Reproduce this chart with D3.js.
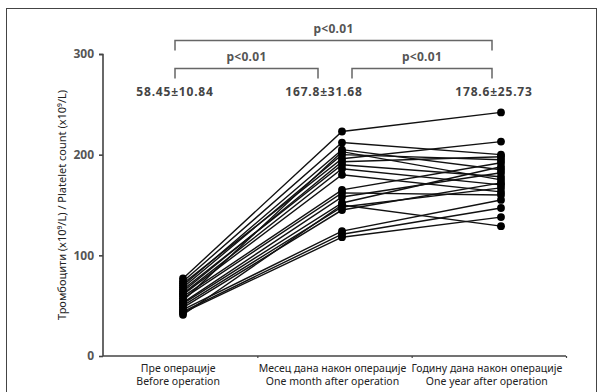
<!DOCTYPE html>
<html>
<head>
<meta charset="utf-8">
<script src="https://cdn.jsdelivr.net/npm/d3@7"></script>
<style>
  body { margin: 0; background: #fff; }
  text { font-family: "Noto Sans", "Open Sans", sans-serif; }
</style>
</head>
<body>
<script>
// categories (two-line labels) and summary stats
const catTop = ["Пре операције", "Месец дана након операције", "Годину дана након операције"];
const catBottom = ["Before operation", "One month after operation", "One year after operation"];
const stats = ["58.45±10.84", "167.8±31.68", "178.6±25.73"];
const yTicks = [0, 100, 200, 300];

// one value per patient at each time point
const before = [77, 74, 72, 70, 68, 66, 64, 62, 61, 59, 57, 55, 53, 52, 50, 48, 46, 44, 43, 41];
const month  = [223, 212, 196, 205, 200, 190, 193, 186, 180, 165, 162, 203, 158, 152, 148, 145, 124, 121, 118, 150];
const year   = [242, 200, 213, 185, 195, 178, 198, 170, 163, 192, 160, 175, 182, 188, 167, 172, 155, 147, 138, 129];

// significance brackets: from group -> to group, level (0 = outer)
const brackets = [{a: 0, b: 2, level: 0}, {a: 0, b: 1, level: 1}, {a: 1, b: 2, level: 1}];

const w = 601, h = 392;
const svg = d3.select("body").append("svg").attr("width", w).attr("height", h);

// outer frame
svg.append("rect").attr("x", 6.5).attr("y", 8.5).attr("width", 590).attr("height", 400)
  .attr("fill", "none").attr("stroke", "#444").attr("stroke-width", 1);

const y = d3.scaleLinear().domain([0, 300]).range([356, 54]);
const xAxisScale = d3.scaleLinear().domain([0, 3]).range([103, 566]);
const xPts = d3.scalePoint().domain([0, 1, 2]).range([183, 501]);

// y axis
const yAxis = d3.axisLeft(y).tickValues(yTicks).tickSize(4).tickPadding(5);
const gy = svg.append("g").attr("transform", "translate(103,0)").call(yAxis);
gy.select(".domain").attr("stroke", "#444").attr("stroke-width", 1.6).attr("d", "M-4,54.5H0V356");
gy.selectAll(".tick line").attr("stroke", "#444").attr("stroke-width", 1.6);
gy.selectAll(".tick text").attr("fill", "#555").style("font-size", "12px").style("font-weight", "bold");

// x axis
const xAxis = d3.axisBottom(xAxisScale).tickValues([1, 2, 3]).tickSize(2).tickFormat("");
const gx = svg.append("g").attr("transform", "translate(0,356)").call(xAxis);
gx.select(".domain").attr("stroke", "#444").attr("stroke-width", 1.6).attr("d", "M103,0H566");
gx.selectAll(".tick line").attr("stroke", "#444").attr("stroke-width", 1.2);

// category labels
catTop.forEach((t, i) => {
  svg.append("text").attr("x", xAxisScale(i + 0.5) - 2).attr("y", 372)
    .attr("text-anchor", "middle").style("font-size", "10.5px").attr("fill", "#222").text(t);
  svg.append("text").attr("x", xAxisScale(i + 0.5) - 2).attr("y", 385)
    .attr("text-anchor", "middle").style("font-size", "10.5px").attr("fill", "#222").text(catBottom[i]);
});

// y label
svg.append("text").attr("transform", "translate(66,205) rotate(-90)")
  .attr("text-anchor", "middle").style("font-size", "11px").attr("fill", "#222")
  .text("Тромбоцити (x10⁹/L) / Platelet count (x10⁹/L)");

// patient lines
const rows = before.map((b, i) => [b, month[i], year[i]]);
const line = d3.line().x((d, i) => xPts(i)).y(d => y(d));
svg.append("g").selectAll("path").data(rows).enter().append("path")
  .attr("d", line).attr("fill", "none").attr("stroke", "#111").attr("stroke-width", 1.4);

// points
rows.forEach(r => {
  svg.append("g").selectAll("circle").data(r).enter().append("circle")
    .attr("cx", (d, i) => xPts(i)).attr("cy", d => y(d)).attr("r", 3.9).attr("fill", "#000");
});

// stats text
const statX = [175, 324, 494];
stats.forEach((s, i) => {
  svg.append("text").attr("x", statX[i]).attr("y", 96).attr("text-anchor", "middle")
    .style("font-size", "12px").style("font-weight", "bold").style("letter-spacing", "0.8px")
    .attr("fill", "#444").text(s);
});

// brackets
const brX = [[175, 492], [175, 318], [352, 492]];
brackets.forEach((b, k) => {
  const [x0, x1] = brX[k];
  const top = b.level === 0 ? 40.5 : 68.5;
  svg.append("path").attr("d", `M${x0},${top + 10}V${top}H${x1}V${top + 10}`)
    .attr("fill", "none").attr("stroke", "#666").attr("stroke-width", 1.5);
  svg.append("text").attr("x", (x0 + x1) / 2).attr("y", top - 8).attr("text-anchor", "middle")
    .style("font-size", "12px").style("font-weight", "bold").style("letter-spacing", "0.3px")
    .attr("fill", "#555").text("p<0.01");
});
</script>
</body>
</html>
